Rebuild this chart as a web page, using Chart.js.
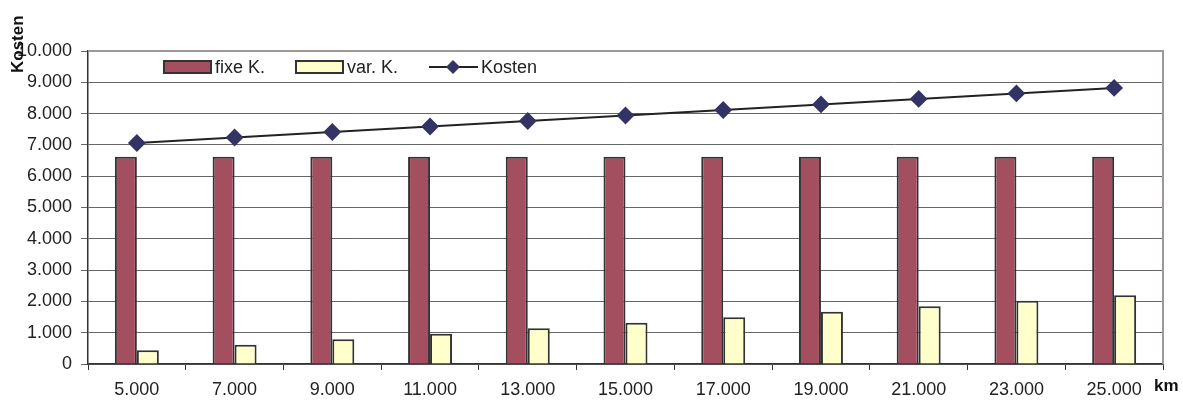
<!DOCTYPE html>
<html>
<head>
<meta charset="utf-8">
<script src="https://cdn.jsdelivr.net/npm/chart.js@4"></script>
<style>
  body { margin: 0; background: #fff; }
  #wrap { width: 1183px; height: 402px; }
</style>
</head>
<body>
<div id="wrap"><canvas id="grafico"></canvas></div>
<script>
// km categories
const kmLabels = ["5.000", "7.000", "9.000", "11.000", "13.000", "15.000", "17.000", "19.000", "21.000", "23.000", "25.000"];
// fixed costs
const fixeK = [6620, 6620, 6620, 6620, 6620, 6620, 6620, 6620, 6620, 6620, 6620];
// variable costs
const varK = [440, 616, 792, 968, 1144, 1320, 1496, 1672, 1848, 2024, 2200];
// total costs
const kosten = [7060, 7236, 7412, 7588, 7764, 7940, 8116, 8292, 8468, 8644, 8820];

const FONT = "'Liberation Sans', Arial, sans-serif";

function formatDE(v) {
  return v.toLocaleString("de-DE");
}

// legend, axis titles and plot border drawn by hand
const extras = {
  id: "extras",
  afterDraw(chart) {
    const ctx = chart.ctx;
    const a = chart.chartArea;
    ctx.save();

    // plot border top / right
    ctx.strokeStyle = "#a09898";
    ctx.lineWidth = 2;
    ctx.beginPath();
    ctx.moveTo(a.left, a.top);
    ctx.lineTo(a.right, a.top);
    ctx.lineTo(a.right, a.bottom);
    ctx.stroke();

    // legend
    ctx.font = "18px " + FONT;
    ctx.textBaseline = "middle";
    const ly = 67;
    const ds = chart.data.datasets;
    let x = 164;
    [0, 1].forEach((i) => {
      ctx.fillStyle = ds[i].backgroundColor;
      ctx.fillRect(x, ly - 6, 47, 12);
      ctx.strokeStyle = "#333";
      ctx.lineWidth = 2;
      ctx.strokeRect(x, ly - 6, 47, 12);
      ctx.fillStyle = "#222";
      ctx.fillText(ds[i].label, x + 51, ly + 1);
      x += 132;
    });
    ctx.strokeStyle = "#222";
    ctx.lineWidth = 2;
    ctx.beginPath();
    ctx.moveTo(429, ly);
    ctx.lineTo(478, ly);
    ctx.stroke();
    ctx.fillStyle = "#333366";
    ctx.beginPath();
    ctx.moveTo(453, ly - 7);
    ctx.lineTo(460, ly);
    ctx.lineTo(453, ly + 7);
    ctx.lineTo(446, ly);
    ctx.closePath();
    ctx.fill();
    ctx.fillStyle = "#222";
    ctx.fillText(ds[2].label, 481, ly + 1);

    // axis titles
    ctx.font = "bold 17px " + FONT;
    ctx.fillStyle = "#111";
    ctx.textAlign = "left";
    ctx.fillText("km", 1154, 386);
    ctx.translate(18, 73);
    ctx.rotate(-Math.PI / 2);
    ctx.fillText("Kosten", 0, 0);
    ctx.restore();
  }
};

new Chart(document.getElementById("grafico").getContext("2d"), {
  type: "bar",
  data: {
    labels: kmLabels,
    datasets: [
      {
        label: "fixe K.",
        data: fixeK,
        backgroundColor: "#a34f5f",
        borderColor: "#333",
        borderWidth: 2,
        barPercentage: 1,
        categoryPercentage: 0.45,
        order: 2
      },
      {
        label: "var. K.",
        data: varK,
        backgroundColor: "#ffffcc",
        borderColor: "#333",
        borderWidth: 2,
        barPercentage: 1,
        categoryPercentage: 0.45,
        order: 2
      },
      {
        type: "line",
        label: "Kosten",
        data: kosten,
        borderColor: "#222",
        borderWidth: 2,
        pointStyle: "rectRot",
        pointRadius: 7.5,
        pointBackgroundColor: "#333366",
        pointBorderColor: "#333366",
        tension: 0,
        order: 1
      }
    ]
  },
  options: {
    responsive: true,
    maintainAspectRatio: false,
    animation: false,
    layout: { padding: { top: 51, right: 20, left: 0, bottom: 0 } },
    plugins: {
      legend: { display: false },
      tooltip: { enabled: false }
    },
    scales: {
      x: {
        offset: true,
        grid: {
          offset: true,
          drawOnChartArea: false,
          drawTicks: true,
          tickLength: 6,
          color: "#333"
        },
        border: { color: "#333", width: 1.5 },
        ticks: {
          color: "#222",
          font: { family: FONT, size: 18 },
          padding: 9,
          maxRotation: 0
        },
        afterFit(s) { s.height = 38; }
      },
      y: {
        min: 0,
        max: 10000,
        grid: {
          color: "#666",
          tickLength: 7,
          lineWidth: 1
        },
        border: { color: "#333", width: 1.5 },
        ticks: {
          stepSize: 1000,
          color: "#222",
          font: { family: FONT, size: 18 },
          padding: 9,
          callback: (v) => formatDE(v)
        },
        afterFit(s) { s.width = 88; }
      }
    }
  },
  plugins: [extras]
});
</script>
</body>
</html>
